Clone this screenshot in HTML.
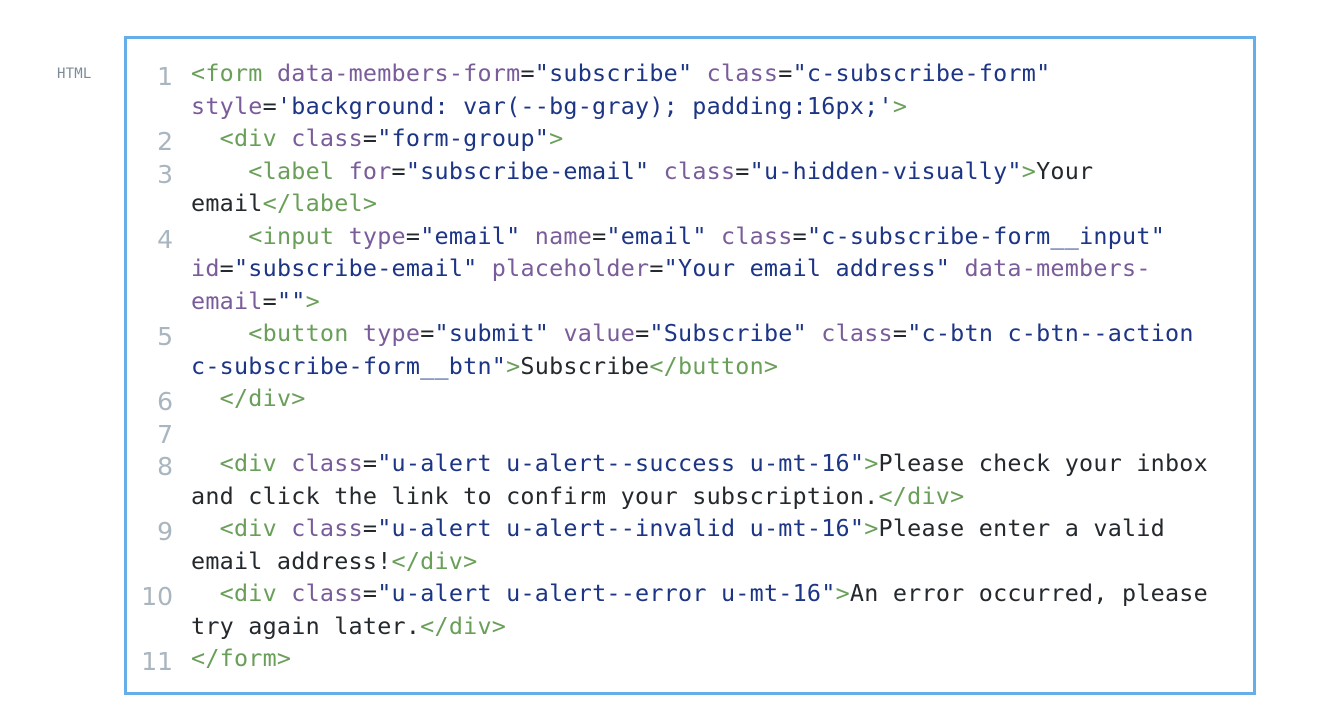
<!DOCTYPE html>
<html><head><meta charset="utf-8"><style>
body{margin:0;width:1336px;height:720px;background:#fff;position:relative;overflow:hidden}
.lab{position:absolute;left:57px;top:66px;font:14px "DejaVu Sans Mono","Liberation Mono",monospace;color:#7d8b99;letter-spacing:0.2px}
.box{position:absolute;left:124px;top:36px;width:1126px;height:653px;border:3px solid #66aee8}
.w{position:absolute;left:0;top:2px;width:1336px;height:700px}
.r{position:absolute;left:191px;height:32.5px;line-height:32.5px;font:23.4px "DejaVu Sans Mono","Liberation Mono",monospace;letter-spacing:0.24px;white-space:pre;color:#24292e}
.n{position:absolute;width:60px;left:113px;text-align:right;height:32.5px;line-height:32.5px;font:25px "DejaVu Sans","Liberation Sans",sans-serif;color:#a9b5bf;margin-top:3px}
.t{color:#6a9f5a}.a{color:#7a5c9a}.s{color:#1d3585}
</style></head><body>
<div class="lab">HTML</div>
<div class="box"></div>
<div class="w">
<div class="n" style="top:57px">1</div>
<div class="r" style="top:57px"><span class="t">&lt;form</span> <span class="a">data-members-form</span>=<span class="s">"subscribe"</span> <span class="a">class</span>=<span class="s">"c-subscribe-form"</span></div>
<div class="r" style="top:89.5px"><span class="a">style</span>=<span class="s">'background: var(--bg-gray); padding:16px;'</span><span class="t">&gt;</span></div>
<div class="n" style="top:122px">2</div>
<div class="r" style="top:122px">  <span class="t">&lt;div</span> <span class="a">class</span>=<span class="s">"form-group"</span><span class="t">&gt;</span></div>
<div class="n" style="top:154.5px">3</div>
<div class="r" style="top:154.5px">    <span class="t">&lt;label</span> <span class="a">for</span>=<span class="s">"subscribe-email"</span> <span class="a">class</span>=<span class="s">"u-hidden-visually"</span><span class="t">&gt;</span>Your</div>
<div class="r" style="top:187px">email<span class="t">&lt;/label&gt;</span></div>
<div class="n" style="top:219.5px">4</div>
<div class="r" style="top:219.5px">    <span class="t">&lt;input</span> <span class="a">type</span>=<span class="s">"email"</span> <span class="a">name</span>=<span class="s">"email"</span> <span class="a">class</span>=<span class="s">"c-subscribe-form__input"</span></div>
<div class="r" style="top:252px"><span class="a">id</span>=<span class="s">"subscribe-email"</span> <span class="a">placeholder</span>=<span class="s">"Your email address"</span> <span class="a">data-members-</span></div>
<div class="r" style="top:284.5px"><span class="a">email</span>=<span class="s">""</span><span class="t">&gt;</span></div>
<div class="n" style="top:317px">5</div>
<div class="r" style="top:317px">    <span class="t">&lt;button</span> <span class="a">type</span>=<span class="s">"submit"</span> <span class="a">value</span>=<span class="s">"Subscribe"</span> <span class="a">class</span>=<span class="s">"c-btn c-btn--action</span></div>
<div class="r" style="top:349.5px"><span class="s">c-subscribe-form__btn"</span><span class="t">&gt;</span>Subscribe<span class="t">&lt;/button&gt;</span></div>
<div class="n" style="top:382px">6</div>
<div class="r" style="top:382px">  <span class="t">&lt;/div&gt;</span></div>
<div class="n" style="top:414.5px">7</div>
<div class="n" style="top:447px">8</div>
<div class="r" style="top:447px">  <span class="t">&lt;div</span> <span class="a">class</span>=<span class="s">"u-alert u-alert--success u-mt-16"</span><span class="t">&gt;</span>Please check your inbox</div>
<div class="r" style="top:479.5px">and click the link to confirm your subscription.<span class="t">&lt;/div&gt;</span></div>
<div class="n" style="top:512px">9</div>
<div class="r" style="top:512px">  <span class="t">&lt;div</span> <span class="a">class</span>=<span class="s">"u-alert u-alert--invalid u-mt-16"</span><span class="t">&gt;</span>Please enter a valid</div>
<div class="r" style="top:544.5px">email address!<span class="t">&lt;/div&gt;</span></div>
<div class="n" style="top:577px">10</div>
<div class="r" style="top:577px">  <span class="t">&lt;div</span> <span class="a">class</span>=<span class="s">"u-alert u-alert--error u-mt-16"</span><span class="t">&gt;</span>An error occurred, please</div>
<div class="r" style="top:609.5px">try again later.<span class="t">&lt;/div&gt;</span></div>
<div class="n" style="top:642px">11</div>
<div class="r" style="top:642px"><span class="t">&lt;/form&gt;</span></div>
</div>
</body></html>
